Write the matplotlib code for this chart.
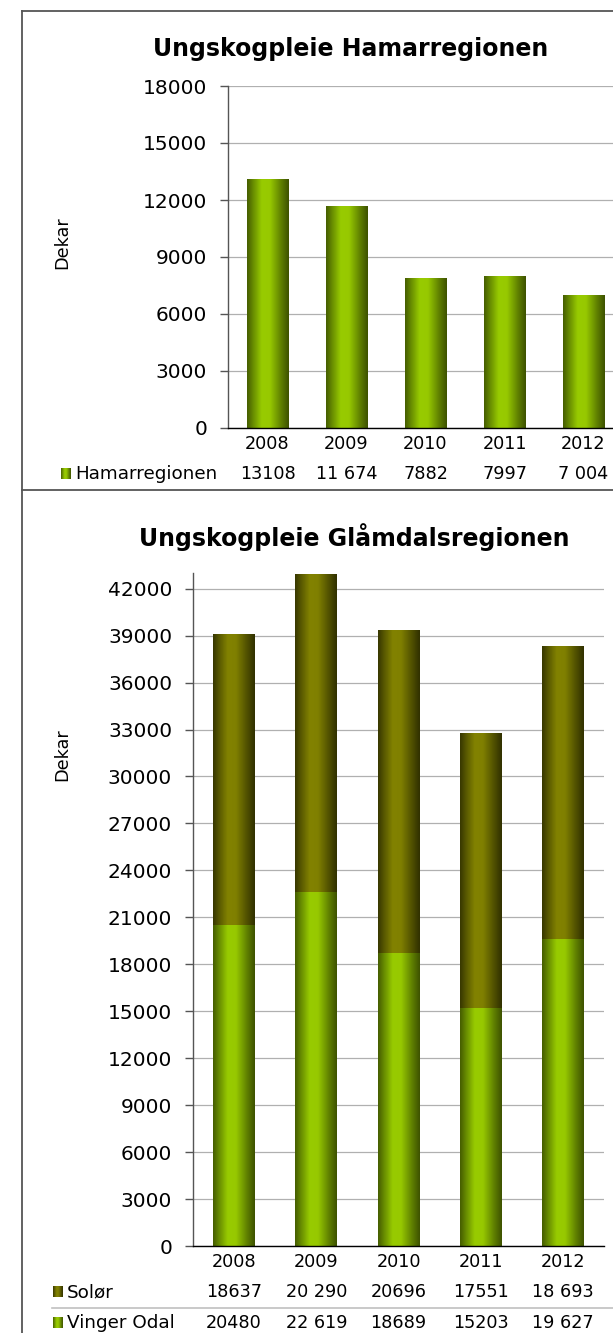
import numpy as np
import matplotlib
matplotlib.use('Agg')
import matplotlib.pyplot as plt
from matplotlib.colors import LinearSegmentedColormap
from matplotlib.lines import Line2D

years = ['2008', '2009', '2010', '2011', '2012']
hamar = [13108, 11674, 7882, 7997, 7004]
hamar_txt = ['13108', '11 674', '7882', '7997', '7 004']
vinger = [20480, 22619, 18689, 15203, 19627]
vinger_txt = ['20480', '22 619', '18689', '15203', '19 627']
solor = [18637, 20290, 20696, 17551, 18693]
solor_txt = ['18637', '20 290', '20696', '17551', '18 693']

W, H = 613, 1333
fig = plt.figure(figsize=(W / 100, H / 100), dpi=100)
fig.patch.set_facecolor('white')

green = LinearSegmentedColormap.from_list('g', [
    (0.0, '#465e00'), (0.15, '#6a8f00'), (0.35, '#98cb00'), (0.55, '#97c900'),
    (0.8, '#638500'), (1.0, '#3e5300')])
olive = LinearSegmentedColormap.from_list('o', [
    (0.0, '#383800'), (0.15, '#5a5a00'), (0.35, '#828200'), (0.55, '#808000'),
    (0.8, '#535300'), (1.0, '#313100')])
grad = np.linspace(0, 1, 64).reshape(1, -1)


def shade(ax, bars, cmap):
    # gradient fill clipped to each bar
    for b in bars:
        b.set_facecolor('none')
        b.set_edgecolor('none')
        x, y = b.get_x(), b.get_y()
        w, h = b.get_width(), b.get_height()
        im = ax.imshow(grad, cmap=cmap, aspect='auto', extent=[x, x + w, y, y + h],
                       interpolation='bicubic', zorder=2)
        im.set_clip_path(b)


def px(x, y):
    return x / W, 1 - y / H


def style(ax, top, step):
    ax.set_xlim(-0.5, 4.5)
    ax.set_ylim(0, top)
    ax.set_yticks(np.arange(0, top + 1, step))
    ax.yaxis.grid(True, color='#b0b0b0', linewidth=0.9, zorder=0)
    ax.set_axisbelow(True)
    for s in ['top', 'right']:
        ax.spines[s].set_visible(False)
    ax.spines['left'].set_color('#555555')
    ax.spines['bottom'].set_color('#000000')
    ax.spines['left'].set_linewidth(1.0)
    ax.spines['bottom'].set_linewidth(1.0)
    ax.tick_params(axis='y', length=6, width=1, color='#555555', pad=9,
                   labelsize=14.5, labelcolor='black')
    ax.tick_params(axis='x', length=0, pad=5, labelsize=12.7)
    ax.set_xticks(range(5))
    ax.set_xticklabels(years)


def table_row(ax, yfrac, vals):
    for i, v in enumerate(vals):
        ax.text(i, yfrac, v, transform=ax.get_xaxis_transform(), ha='center',
                va='center', fontsize=12.7, clip_on=False)


def key(x, y, cmap, label):
    kx = fig.add_axes([x / W, 1 - (y + 5) / H, 10 / W, 11 / H])
    kx.imshow(grad, cmap=cmap, aspect='auto', interpolation='bicubic')
    kx.axis('off')
    fig.text(*px(x + 14, y), label, fontsize=13.2, va='center', ha='left')


# panel borders
line_kw = dict(color='#555555', linewidth=1.3, transform=fig.transFigure)
fig.add_artist(Line2D([22 / W, 1.0], [1 - 11 / H] * 2, **line_kw))
fig.add_artist(Line2D([22 / W] * 2, [1 - 11 / H, 0], **line_kw))
fig.add_artist(Line2D([22 / W, 1.0], [1 - 490 / H] * 2, **line_kw))

# top chart
ax1 = fig.add_axes([228 / W, 1 - 428 / H, 395 / W, 342 / H])
b1 = ax1.bar(range(5), hamar, width=0.52)
shade(ax1, b1, green)
style(ax1, 18000, 3000)
table_row(ax1, -46 / 342, hamar_txt)
fig.text(*px(351, 49), 'Ungskogpleie Hamarregionen', fontsize=17,
         fontweight='bold', ha='center', va='center')
fig.text(*px(62, 243), 'Dekar', rotation=90, fontsize=12.7, ha='center', va='center')
key(61, 474, green, 'Hamarregionen')

# bottom chart
ax2 = fig.add_axes([193 / W, 1 - 1246 / H, 411 / W, 673 / H])
b2 = ax2.bar(range(5), vinger, width=0.51)
b3 = ax2.bar(range(5), solor, bottom=vinger, width=0.51)
shade(ax2, b2, green)
shade(ax2, b3, olive)
style(ax2, 43000, 3000)
ax2.set_yticks(np.arange(0, 42001, 3000))
table_row(ax2, -46 / 673, solor_txt)
table_row(ax2, -77 / 673, vinger_txt)
fig.add_artist(Line2D([52 / W, 1.0], [1 - 1308 / H] * 2, color='#c0c0c0',
                      linewidth=1.2, transform=fig.transFigure))
fig.text(*px(354, 537), 'Ungskogpleie Glåmdalsregionen', fontsize=17,
         fontweight='bold', ha='center', va='center')
fig.text(*px(62, 755), 'Dekar', rotation=90, fontsize=12.7, ha='center', va='center')
key(53, 1292, olive, 'Solør')
key(53, 1323, green, 'Vinger Odal')

fig.savefig('out.png', dpi=100)
